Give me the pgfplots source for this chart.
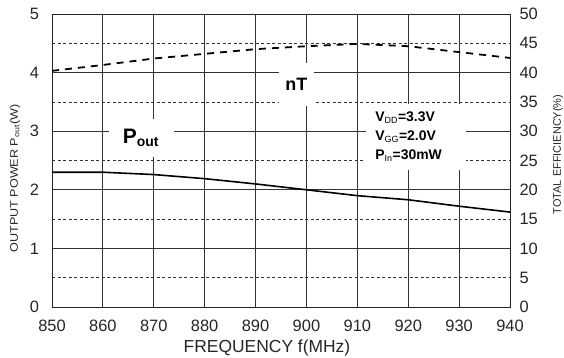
\documentclass[border=0pt]{standalone}
\usepackage{fontspec}
\setmainfont{Liberation Sans}
\newfontfamily\lblfont[FakeStretch=1.15]{Liberation Sans}
\usepackage{pgfplots}
\pgfplotsset{compat=1.18}
\pgfplotstableread{
f pout
850 2.30
860 2.30
870 2.26
880 2.19
890 2.10
900 2.00
910 1.90
920 1.83
930 1.72
940 1.62
}\pouttable
\pgfplotstableread{
f eff
850 40.3
860 41.3
870 42.4
880 43.2
890 44.0
900 44.5
910 44.9
920 44.5
930 43.5
940 42.5
}\efftable
\begin{document}
\begin{tikzpicture}
\pgfplotsset{
  every axis/.append style={
    at={(0,0)}, anchor=south west,
    scale only axis, width=458bp, height=293bp,
    xmin=850, xmax=940,
    major tick length=0pt, minor tick length=0pt,
    /pgf/number format/assume math mode=true,
    /pgf/number format/1000 sep={},
    tick label style={font=\fontsize{16.5}{16.5}\selectfont, text=black!85},
  }
}
\begin{axis}[
  name=ax,
  ymin=0, ymax=5,
  xtick={850,860,...,940}, ytick={0,1,...,5},
  minor ytick={0.5,1.5,...,4.5},
  grid=both,
  major grid style={black!80, line width=0.8pt},
  minor grid style={black!80, line width=0.7pt, dash pattern=on 3bp off 2.5bp},
  axis line style={black!85, line width=0.9pt},
  xticklabel style={yshift=-10bp},
  yticklabel style={xshift=-9.5bp},
]
\addplot[black, line width=1.6pt, no marks] table[x=f, y=pout] {\pouttable};
\node[fill=white, inner sep=0pt, minimum width=35bp, minimum height=43bp, font=\bfseries\fontsize{18}{18}\selectfont] at (axis cs:898,3.8) {nT};
\node[fill=white, inner sep=0pt, minimum width=65bp, minimum height=38bp, font=\bfseries\fontsize{21}{21}\selectfont] at (axis cs:867.5,2.88) {P\textsubscript{\fontsize{14}{14}\selectfont out}};
\node[fill=white, inner sep=0pt, minimum width=100bp, minimum height=66bp] at (axis cs:921.6,2.9) {};
\node[anchor=west, inner sep=0pt, align=left, font=\bfseries\fontsize{14}{19}\selectfont] at (axis cs:913.5,2.91) {V\textsubscript{\mdseries\fontsize{9}{9}\selectfont DD}=3.3V\\V\textsubscript{\mdseries\fontsize{9}{9}\selectfont GG}=2.0V\\P\textsubscript{\mdseries\fontsize{9}{9}\selectfont In}=30mW};
\end{axis}
\begin{axis}[
  ymin=0, ymax=50,
  axis y line*=right, axis x line=none,
  ytick={0,5,...,50},
  yticklabel style={xshift=6bp},
  axis line style={black!85, line width=0.9pt},
]
\addplot[black, line width=1.8pt, no marks, dash pattern=on 7bp off 6bp] table[x=f, y=eff] {\efftable};
\end{axis}
\node[font=\fontsize{17.5}{17.5}\selectfont, text=black!85] at ([xshift=-14bp,yshift=-41bp]ax.south) {FREQUENCY f(MHz)};
\node[rotate=90, font=\lblfont\fontsize{11}{11}\selectfont, text=black!85] at ([xshift=-37bp,yshift=-18bp]ax.west) {OUTPUT POWER P\textsubscript{out}(W)};
\node[rotate=90, font=\fontsize{11}{11}\selectfont, text=black!85] at ([xshift=48bp,yshift=6bp]ax.east) {TOTAL EFFICIENCY(\%)};
\pgfresetboundingbox
\path[use as bounding box] (-52bp,-51bp) rectangle (512bp,307bp);
\end{tikzpicture}
\end{document}
